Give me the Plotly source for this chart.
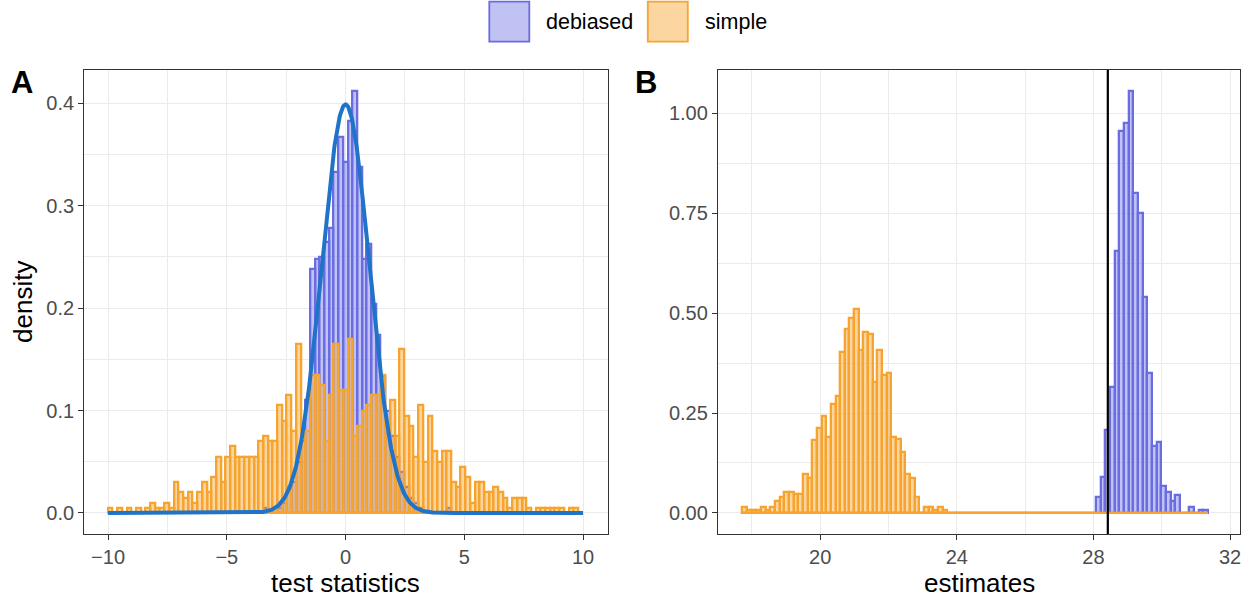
import numpy as np
import plotly.graph_objects as go

# ---------------- data (densities) ----------------
# Panel A: 100 histogram bins, centres from -9.9 to 9.7
a_first_center = -9.9
a_last_center = 9.7
a_simple = [
    0.005, 0, 0.005, 0, 0.005, 0, 0.005, 0, 0.005, 0.010,
    0.005, 0.005, 0.010, 0.005, 0.030, 0.020, 0.015, 0.020, 0.010, 0.020,
    0.030, 0.020, 0.035, 0.055, 0.030, 0.055, 0.065, 0.055, 0.055, 0.055,
    0.055, 0.055, 0.070, 0.075, 0.070, 0.070, 0.105, 0.090, 0.115, 0.080,
    0.165, 0.080, 0.080, 0.135, 0.135, 0.125, 0.070, 0.115, 0.165, 0.120,
    0.120, 0.170, 0.075, 0.085, 0.100, 0.105, 0.115, 0.115, 0.135, 0.075,
    0.110, 0.075, 0.160, 0.095, 0.085, 0.055, 0.105, 0.050, 0.095, 0.060,
    0.050, 0.060, 0.060, 0.030, 0.025, 0.045, 0.035, 0.010, 0.030, 0.030,
    0.020, 0.020, 0.025, 0.020, 0.015, 0.005, 0.015, 0.015, 0.015, 0.005,
    0, 0.005, 0.005, 0.005, 0.005, 0.005, 0.005, 0, 0.005, 0.005,
]
a_debiased = [
    0, 0, 0, 0, 0, 0, 0, 0, 0, 0,
    0, 0, 0, 0, 0, 0, 0, 0, 0, 0,
    0, 0, 0, 0, 0, 0, 0, 0, 0, 0,
    0, 0, 0, 0.005, 0, 0.005, 0.005, 0.010, 0.025, 0.030,
    0.050, 0.070, 0.110, 0.238, 0.248, 0.250, 0.265, 0.278, 0.333, 0.367,
    0.343, 0.383, 0.412, 0.338, 0.248, 0.263, 0.204, 0.174, 0.134, 0.100,
    0.075, 0.055, 0.040, 0.025, 0.015, 0.010, 0.005, 0, 0, 0,
    0, 0, 0.005, 0, 0, 0, 0, 0, 0, 0,
    0, 0, 0, 0, 0, 0, 0, 0, 0, 0,
    0, 0, 0, 0, 0, 0, 0, 0, 0, 0,
]
normal_mean = 0.0
normal_sd = 1.0
curve_from, curve_to = -10, 10

# Panel B: 100 histogram bins, centres from 17.79 to 31.28
b_first_center = 17.79
b_last_center = 31.28
b_simple = [
    0.015, 0.007, 0.007, 0.007, 0.015, 0.007, 0.015, 0.031, 0.039, 0.053,
    0.053, 0.047, 0.047, 0.097, 0.088, 0.183, 0.213, 0.243, 0.191, 0.272,
    0.293, 0.403, 0.460, 0.488, 0.511, 0.409, 0.453, 0.447, 0.328, 0.409,
    0.345, 0.351, 0.191, 0.184, 0.153, 0.097, 0.088, 0.039, 0, 0.015,
    0.015, 0.007, 0.015, 0.007, 0, 0, 0, 0, 0, 0,
    0, 0, 0, 0, 0, 0, 0, 0, 0, 0,
    0, 0, 0, 0, 0, 0, 0, 0, 0, 0,
    0, 0, 0, 0, 0, 0, 0, 0, 0, 0,
    0, 0, 0, 0, 0, 0, 0, 0, 0, 0,
    0, 0, 0, 0, 0, 0, 0, 0, 0, 0,
]
b_debiased = [
    0, 0, 0, 0, 0, 0, 0, 0, 0, 0,
    0, 0, 0, 0, 0, 0, 0, 0, 0, 0,
    0, 0, 0, 0, 0, 0, 0, 0, 0, 0,
    0, 0, 0, 0, 0, 0, 0, 0, 0, 0,
    0, 0, 0, 0, 0, 0, 0, 0, 0, 0,
    0, 0, 0, 0, 0, 0, 0, 0, 0, 0,
    0, 0, 0, 0, 0, 0, 0, 0, 0, 0,
    0, 0, 0, 0, 0, 0, 0.039, 0.091, 0.208, 0.316,
    0.656, 0.956, 0.976, 1.056, 0.801, 0.751, 0.541, 0.351, 0.168, 0.177,
    0.068, 0.053, 0.031, 0.046, 0, 0, 0.016, 0, 0.008, 0.008,
]
true_value = 28.42

a_xticks = [-10, -5, 0, 5, 10]
a_xticklabels = ["\u221210", "\u22125", "0", "5", "10"]
a_yticks = [0.0, 0.1, 0.2, 0.3, 0.4]
a_yticklabels = ["0.0", "0.1", "0.2", "0.3", "0.4"]
b_xticks = [20, 24, 28, 32]
b_xticklabels = ["20", "24", "28", "32"]
b_yticks = [0.0, 0.25, 0.5, 0.75, 1.0]
b_yticklabels = ["0.00", "0.25", "0.50", "0.75", "1.00"]

groups = ["debiased", "simple"]

# ---------------- styles ----------------
W, H = 1254, 603
FONT = "Liberation Sans, Arial, Helvetica, sans-serif"
BLUE_LINE = "#6A6DE2"
BLUE_FILL = "rgba(106,109,226,0.42)"
ORANGE_LINE = "#F7A42E"
ORANGE_FILL = "rgba(247,164,46,0.45)"
CURVE = "#1F73C9"
GRID = "#EBEBEB"
FRAME = "#333333"
TICKTXT = "#4D4D4D"
BAR_LW = 2.3

def px_x(p):
    return p / W

def px_y(p):
    return 1 - p / H

a_centers = np.linspace(a_first_center, a_last_center, len(a_simple))
a_w = (a_last_center - a_first_center) / (len(a_simple) - 1)
b_centers = np.linspace(b_first_center, b_last_center, len(b_simple))
b_w = (b_last_center - b_first_center) / (len(b_simple) - 1)

fig = go.Figure()

def add_hist(centers, w, deb, sim, xa, ya):
    fig.add_trace(go.Bar(x=centers, y=deb, width=w, xaxis=xa, yaxis=ya,
                         marker=dict(color=BLUE_FILL, line=dict(color=BLUE_LINE, width=BAR_LW)),
                         name=groups[0], showlegend=False, hoverinfo="skip"))
    fig.add_trace(go.Bar(x=centers, y=sim, width=w, xaxis=xa, yaxis=ya,
                         marker=dict(color=ORANGE_FILL, line=dict(color=ORANGE_LINE, width=BAR_LW)),
                         name=groups[1], showlegend=False, hoverinfo="skip"))
    # zero-height bars are drawn by ggplot as a line along the baseline
    lo = centers[0] - w / 2
    hi = centers[-1] + w / 2
    fig.add_trace(go.Scatter(x=[lo, hi], y=[0, 0], mode="lines", xaxis=xa, yaxis=ya,
                             line=dict(color=ORANGE_LINE, width=BAR_LW),
                             showlegend=False, hoverinfo="skip"))

add_hist(a_centers, a_w, a_debiased, a_simple, "x", "y")
add_hist(b_centers, b_w, b_debiased, b_simple, "x2", "y2")

cx = np.linspace(curve_from, curve_to, 801)
cy = np.exp(-0.5 * ((cx - normal_mean) / normal_sd) ** 2) / (normal_sd * np.sqrt(2 * np.pi))
fig.add_trace(go.Scatter(x=cx, y=cy, mode="lines", xaxis="x", yaxis="y",
                         line=dict(color=CURVE, width=4), showlegend=False, hoverinfo="skip"))

# plot-area geometry (pixels)
A_L, A_R = 84.3, 607.5
B_L, B_R = 718.0, 1240.0
P_T, P_B = 70.0, 534.0
ydom = [px_y(P_B), px_y(P_T)]

def axis_common():
    return dict(showline=True, mirror=True, linecolor=FRAME, linewidth=1.3,
                ticks="outside", ticklen=5, tickwidth=1.3, tickcolor=FRAME,
                tickfont=dict(family=FONT, size=20, color=TICKTXT),
                showgrid=True, gridcolor=GRID, gridwidth=1.4, zeroline=False,
                fixedrange=True)

a_max = max(max(a_simple), max(a_debiased))
b_max = max(max(b_simple), max(b_debiased))

fig.update_layout(
    width=W, height=H, margin=dict(l=0, r=0, t=0, b=0, pad=0),
    paper_bgcolor="white", plot_bgcolor="white", barmode="overlay", bargap=0,
    showlegend=False,
    xaxis=dict(domain=[px_x(A_L), px_x(A_R)], range=[-11, 11.03], anchor="y",
               tickvals=a_xticks, ticktext=a_xticklabels,
               minor=dict(tickvals=[-7.5, -2.5, 2.5, 7.5], showgrid=True, gridcolor=GRID,
                          gridwidth=0.8, ticks=""),
               **axis_common()),
    yaxis=dict(domain=ydom, range=[-0.05 * a_max, 1.05 * a_max], anchor="x",
               tickvals=a_yticks, ticktext=a_yticklabels,
               minor=dict(tickvals=[0.05, 0.15, 0.25, 0.35], showgrid=True, gridcolor=GRID,
                          gridwidth=0.8, ticks=""),
               **axis_common()),
    xaxis2=dict(domain=[px_x(B_L), px_x(B_R)], range=[17.007, 32.29], anchor="y2",
                tickvals=b_xticks, ticktext=b_xticklabels,
                minor=dict(tickvals=[18, 22, 26, 30], showgrid=True, gridcolor=GRID,
                           gridwidth=0.8, ticks=""),
                **axis_common()),
    yaxis2=dict(domain=ydom, range=[-0.05 * b_max, 1.05 * b_max], anchor="x2",
                tickvals=b_yticks, ticktext=b_yticklabels,
                minor=dict(tickvals=[0.125, 0.375, 0.625, 0.875], showgrid=True, gridcolor=GRID,
                           gridwidth=0.8, ticks=""),
                **axis_common()),
)

# vertical reference line in panel B
fig.add_shape(type="line", xref="x2", yref="y2 domain", x0=true_value, x1=true_value,
              y0=0, y1=1, line=dict(color="black", width=2.2), layer="above")

# text
ann = []
ann.append(dict(text="<b>A</b>", x=px_x(22), y=px_y(82), xref="paper", yref="paper",
                showarrow=False, xanchor="center", yanchor="middle",
                font=dict(family=FONT, size=31, color="black")))
ann.append(dict(text="<b>B</b>", x=px_x(646), y=px_y(82), xref="paper", yref="paper",
                showarrow=False, xanchor="center", yanchor="middle",
                font=dict(family=FONT, size=31, color="black")))
ann.append(dict(text="density", x=px_x(23), y=px_y((P_T + P_B) / 2), xref="paper", yref="paper",
                showarrow=False, xanchor="center", yanchor="middle", textangle=-90,
                font=dict(family=FONT, size=26, color="black")))
ann.append(dict(text="test statistics", x=px_x((A_L + A_R) / 2), y=px_y(583), xref="paper",
                yref="paper", showarrow=False, xanchor="center", yanchor="middle",
                font=dict(family=FONT, size=26, color="black")))
ann.append(dict(text="estimates", x=px_x((B_L + B_R) / 2), y=px_y(583), xref="paper",
                yref="paper", showarrow=False, xanchor="center", yanchor="middle",
                font=dict(family=FONT, size=26, color="black")))

# legend drawn by hand (keys + labels)
legend_keys = [(489.3, 529.3, BLUE_FILL, BLUE_LINE, 544.0),
               (647.8, 687.8, ORANGE_FILL, ORANGE_LINE, 702.5)]
for (k0, k1, fc, lc, tx), name in zip(legend_keys, groups):
    fig.add_shape(type="rect", xref="paper", yref="paper", x0=px_x(k0), x1=px_x(k1),
                  y0=px_y(41.7), y1=px_y(1.7), fillcolor=fc, line=dict(color=lc, width=1.8))
    ann.append(dict(text=name, x=px_x(tx), y=px_y(22), xref="paper", yref="paper",
                    showarrow=False, xanchor="left", yanchor="middle",
                    font=dict(family=FONT, size=21.5, color="black")))
fig.update_layout(annotations=ann)

fig.write_html("out.html")
